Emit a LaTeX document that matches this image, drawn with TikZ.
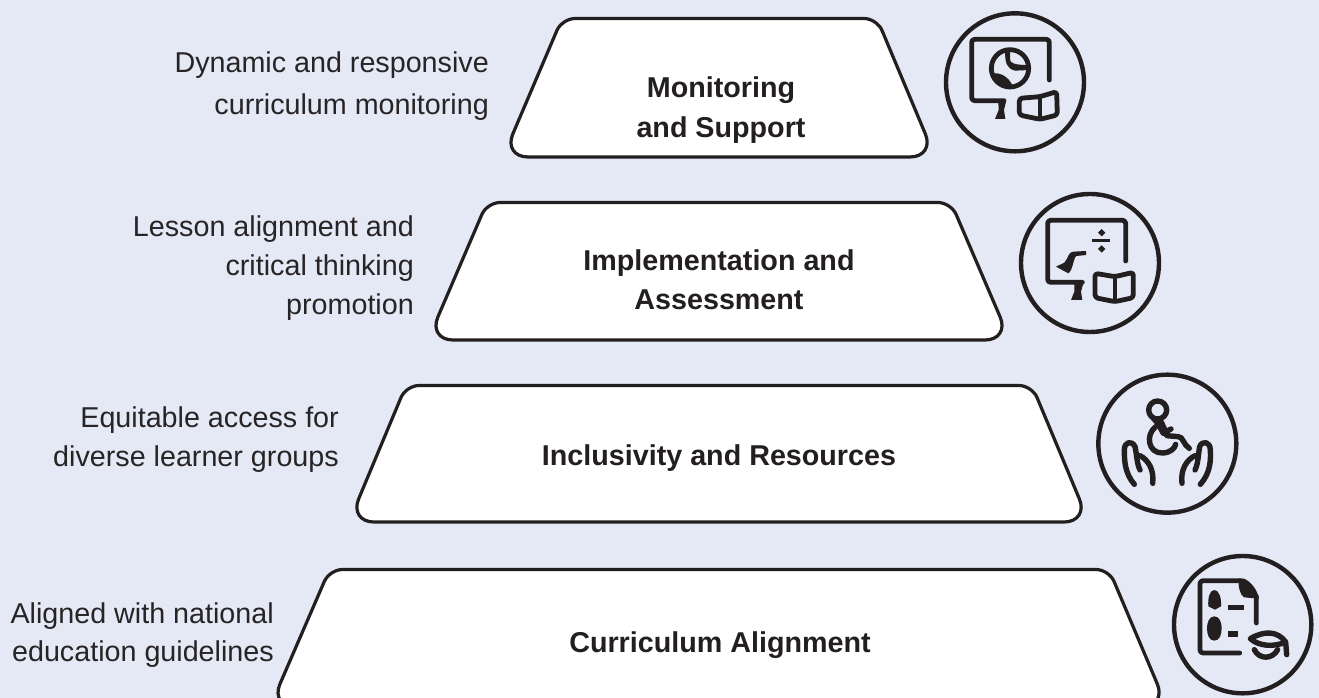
\documentclass[tikz,border=0pt]{standalone}
\usepackage{fontspec}
\setmainfont{Liberation Sans}
\definecolor{bgc}{RGB}{228,233,245}
\definecolor{ink}{RGB}{35,31,32}
\definecolor{txt}{RGB}{40,36,37}
\tikzset{
 trap/.style={draw=ink,fill=white,line width=3.2pt,line join=round},
 lab/.style={font=\fontsize{28.7}{39.5}\selectfont\bfseries,text=ink,align=center,inner sep=0pt},
 side/.style={font=\fontsize{28.7}{39}\selectfont,text=txt,anchor=base east,inner sep=0pt},
 ring/.style={draw=ink,line width=4.4pt},
 ic/.style={draw=ink,line width=4.8pt,line cap=round,line join=round,rounded corners=3pt},
 ich/.style={draw=ink,line width=5.4pt,line cap=round,line join=round},
 icf/.style={fill=ink,draw=none},
 zm/.style={x=0.3333pt,y=-0.3333pt}
}
\begin{document}
\begin{tikzpicture}[x=1pt,y=-1pt]
\useasboundingbox (0,0) rectangle (1319,698);
\fill[bgc] (0,0) rectangle (1319,698);
\begin{scope}
\clip (0,0) rectangle (1319,698);
\draw[trap] (719,157) [rounded corners=25pt] -- (503,157) [rounded corners=13pt] -- (562,18.5) -- (877,18.5) [rounded corners=25pt] -- (935,157) -- cycle;
\draw[trap] (719,340) [rounded corners=25pt] -- (428,340) [rounded corners=13pt] -- (487,202.5) -- (951,202.5) [rounded corners=25pt] -- (1010,340) -- cycle;
\draw[trap] (719,522) [rounded corners=25pt] -- (349,522) [rounded corners=13pt] -- (406,385.5) -- (1032,385.5) [rounded corners=25pt] -- (1089,522) -- cycle;
\draw[trap] (719,707) [rounded corners=25pt] -- (270,707) [rounded corners=13pt] -- (329.5,569.5) -- (1109,569.5) [rounded corners=25pt] -- (1167,707) -- cycle;
\end{scope}
\node[lab] (m) at (721,110) {Monitoring\\and Support};
\node[lab] (i) at (719,279.5) {Implementation and\\Assessment};
\node[lab] (r) at (719,458) {Inclusivity and Resources};
\node[lab] (c) at (720,645) {Curriculum Alignment};
\node[side] (s1a) at (489,73) {Dynamic and responsive};
\node[side] (s1b) at (489,114) {curriculum monitoring};
\node[side] (s2a) at (414,236) {Lesson alignment and};
\node[side] (s2b) at (414,275) {critical thinking};
\node[side] (s2c) at (414,314) {promotion};
\node[side] (s3a) at (339,427.5) {Equitable access for};
\node[side] (s3b) at (339,466.5) {diverse learner groups};
\node[side] (s4a) at (274,623) {Aligned with national};
\node[side] (s4b) at (274,661) {education guidelines};
% icon 1
\begin{scope}[shift={(930,0)},zm]
\draw[ring] (255,247) circle (207);
\draw[ic] (358,240) -- (358,118) -- (125,118) -- (125,302) -- (222,302);
\fill[icf] (205,305) -- (228,305) -- (222,330) -- (226,357) -- (195,357) -- (206,330) -- cycle;
\draw[ic] (240,205) circle (56);
\fill[icf] (182,222) .. controls (205,215) and (235,225) .. (250,262) .. controls (220,270) and (195,255) .. (182,222) -- cycle;
\fill[icf] (225,150) -- (240,148) -- (240,178) .. controls (240,190) and (255,195) .. (295,195) -- (298,210) -- (255,212) .. controls (230,205) and (225,190) .. (225,150) -- cycle;
\draw[ic] (268,295) -- (330,290) -- (380,275) -- (382,345) -- (330,358) -- (268,345) -- cycle;
\draw[ic] (330,295) -- (330,355);
\end{scope}
% icon 2
\begin{scope}[shift={(1005,175)},zm]
\draw[ring] (255,264) circle (207);
\draw[ic] (362,258) -- (362,136) -- (128,136) -- (128,322) -- (232,322);
\fill[icf] (208,325) -- (235,325) -- (228,350) -- (232,375) -- (198,375) -- (208,350) -- cycle;
\fill[icf] (262,192) rectangle (316,202);
\fill[icf] (290,162) -- (301,173) -- (290,184) -- (279,173) -- cycle;
\fill[icf] (290,211) -- (301,222) -- (290,233) -- (279,222) -- cycle;
\fill[icf] (153,275) -- (178,263) .. controls (190,250) and (190,230) .. (205,230) -- (243,228) -- (243,240) -- (215,243) .. controls (205,245) and (205,285) .. (190,295) -- cycle;
\draw[ic] (270,295) -- (330,305) -- (385,292) -- (385,368) -- (330,380) -- (270,368) -- cycle;
\draw[ic] (330,305) -- (330,378);
\end{scope}
% icon 3
\begin{scope}[shift={(1085,365)},zm]
\draw[ring] (247,236) circle (207);
\draw[ich] (218,135) circle (27);
\draw[ich] (205,160) .. controls (225,180) and (228,195) .. (235,205) -- (258,192) (228,170) -- (240,195) -- (245,212) -- (280,215) .. controls (295,215) and (295,240) .. (313,250);
\draw[ich] (212,185) .. controls (180,210) and (190,265) .. (232,264) .. controls (255,264) and (270,250) .. (272,238);
\draw[ich] (148,358) .. controls (120,325) and (118,290) .. (118,255) .. controls (118,230) and (140,225) .. (150,245) .. controls (155,265) and (155,295) .. (165,315);
\draw[ich] (203,355) .. controls (208,315) and (190,285) .. (165,272);
\draw[ich] (346,358) .. controls (375,325) and (378,290) .. (376,255) .. controls (376,230) and (352,225) .. (344,245) .. controls (340,265) and (340,295) .. (330,315);
\draw[ich] (291,355) .. controls (286,315) and (304,285) .. (330,272);
\end{scope}
% icon 4
\begin{scope}[shift={(1149,538)},zm]
\draw[ring] (281,260) circle (206);
\draw[ic] (322,255) -- (322,175) (275,128) -- (153,128) -- (153,345) -- (272,345);
\fill[icf] (268,122) -- (285,122) .. controls (305,130) and (325,155) .. (330,182) -- (285,178) .. controls (272,170) and (268,145) .. (268,122) -- cycle;
\fill[icf] (196,156) .. controls (210,156) and (218,180) .. (216,205) -- (198,215) -- (178,205) .. controls (176,180) and (182,156) .. (196,156) -- cycle;
\fill[icf] (196,235) .. controls (212,235) and (218,255) .. (218,270) .. controls (218,290) and (212,308) .. (196,308) .. controls (180,308) and (174,290) .. (174,270) .. controls (174,255) and (180,235) .. (196,235) -- cycle;
\fill[icf] (236,200) rectangle (286,216);
\fill[icf] (236,280) rectangle (268,296);
\draw[ich] (410,312) .. controls (385,278) and (345,278) .. (304,302) .. controls (330,325) and (375,328) .. (410,312) -- (413,350);
\draw[ich] (316,335) .. controls (330,365) and (370,365) .. (386,335);
\end{scope}
\end{tikzpicture}
\end{document}
